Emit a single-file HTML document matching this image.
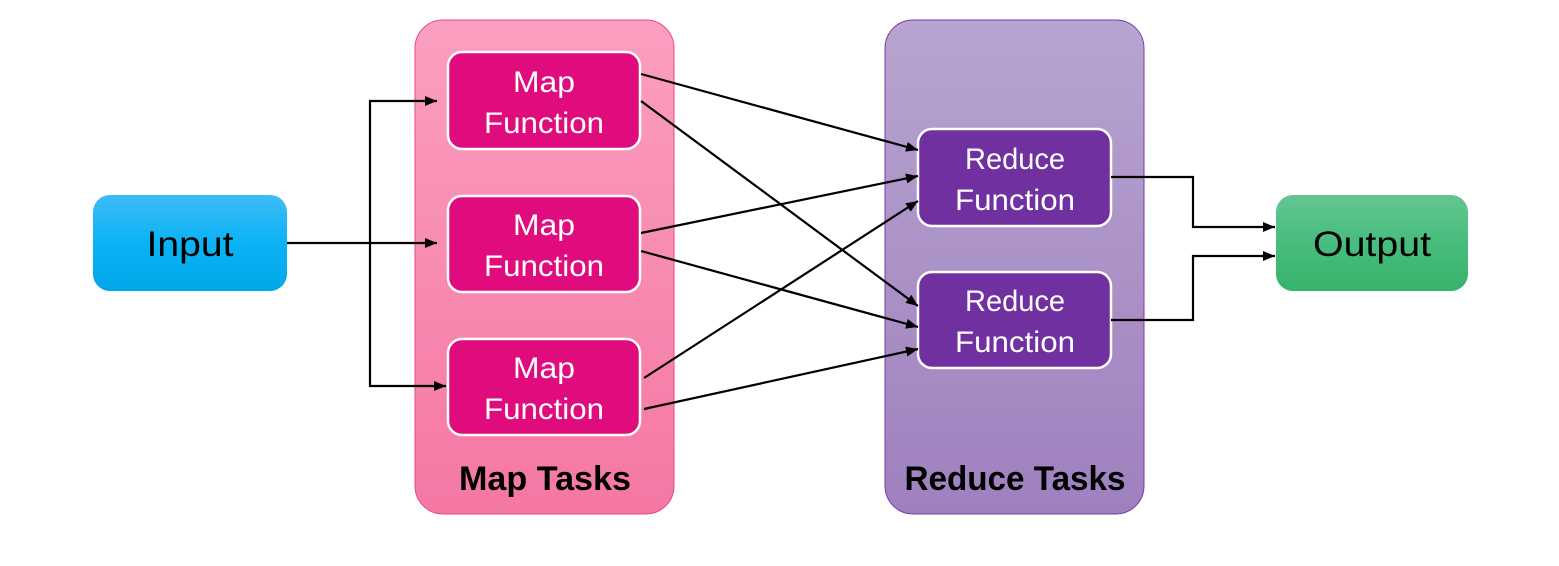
<!DOCTYPE html>
<html><head><meta charset="utf-8"><style>html,body{margin:0;padding:0;background:#fff}svg{display:block}</style></head>
<body>
<svg width="1559" height="566" viewBox="0 0 1559 566" xmlns="http://www.w3.org/2000/svg" font-family="'Liberation Sans', sans-serif">
<defs>
<linearGradient id="gIn" x1="0" y1="0" x2="0" y2="1"><stop offset="0" stop-color="#3dbcf7"/><stop offset="0.5" stop-color="#0bb3f5"/><stop offset="1" stop-color="#00a8e8"/></linearGradient>
<linearGradient id="gOut" x1="0" y1="0" x2="0" y2="1"><stop offset="0" stop-color="#64c592"/><stop offset="0.5" stop-color="#47bd7d"/><stop offset="1" stop-color="#37b36c"/></linearGradient>
<linearGradient id="gMap" x1="0" y1="0" x2="0" y2="1"><stop offset="0" stop-color="#fb9fc0"/><stop offset="1" stop-color="#f577a4"/></linearGradient>
<linearGradient id="gRed" x1="0" y1="0" x2="0" y2="1"><stop offset="0" stop-color="#b8a4d0"/><stop offset="1" stop-color="#9e80be"/></linearGradient>
<marker id="ah" viewBox="0 0 12 10" refX="12" refY="5" markerWidth="12" markerHeight="10" markerUnits="userSpaceOnUse" orient="auto"><path d="M0,0 L12,5 L0,10 z" fill="#000"/></marker>
</defs>
<rect x="415" y="20" width="259" height="494" rx="28" fill="url(#gMap)" stroke="#e8478a" stroke-width="1"/>
<rect x="885" y="20" width="259" height="494" rx="28" fill="url(#gRed)" stroke="#7a3aa6" stroke-width="1"/>
<rect x="93" y="195" width="194" height="96" rx="17" fill="url(#gIn)"/>
<rect x="1276" y="195" width="192" height="96" rx="17" fill="url(#gOut)"/>
<g fill="#e00b7d" stroke="#fff" stroke-width="2.5">
<rect x="448" y="52" width="192" height="97" rx="14"/>
<rect x="448" y="196" width="192" height="96" rx="14"/>
<rect x="448" y="339" width="192" height="96" rx="14"/>
</g>
<g fill="#7030a0" stroke="#fff" stroke-width="2.5">
<rect x="918" y="129" width="193" height="97" rx="14"/>
<rect x="918" y="272" width="193" height="96" rx="14"/>
</g>
<g stroke="#000" stroke-width="2.2" fill="none" marker-end="url(#ah)">
<path d="M287,243 L437,243"/>
<path d="M370,243 L370,101 L437,101"/>
<path d="M370,243 L370,386 L446,386"/>
<path d="M641,74 L918,150"/>
<path d="M641,101 L918,306"/>
<path d="M641,233 L918,176"/>
<path d="M641,251 L918,327"/>
<path d="M644,378 L918,201"/>
<path d="M644,409 L918,349"/>
<path d="M1111,177 L1193,177 L1193,227 L1275,227"/>
<path d="M1111,320 L1193,320 L1193,256 L1275,256"/>
</g>
<g fill="#fff" font-size="30" text-anchor="middle">
<text x="544" y="92" textLength="62" lengthAdjust="spacingAndGlyphs">Map</text>
<text x="544" y="133" textLength="120" lengthAdjust="spacingAndGlyphs">Function</text>
<text x="544" y="235" textLength="62" lengthAdjust="spacingAndGlyphs">Map</text>
<text x="544" y="276" textLength="120" lengthAdjust="spacingAndGlyphs">Function</text>
<text x="544" y="378" textLength="62" lengthAdjust="spacingAndGlyphs">Map</text>
<text x="544" y="419" textLength="120" lengthAdjust="spacingAndGlyphs">Function</text>
<text x="1015" y="169" textLength="100" lengthAdjust="spacingAndGlyphs">Reduce</text>
<text x="1015" y="210" textLength="120" lengthAdjust="spacingAndGlyphs">Function</text>
<text x="1015" y="311" textLength="100" lengthAdjust="spacingAndGlyphs">Reduce</text>
<text x="1015" y="352" textLength="120" lengthAdjust="spacingAndGlyphs">Function</text>
</g>
<g fill="#000" text-anchor="middle">
<text x="190" y="256" font-size="35" textLength="87" lengthAdjust="spacingAndGlyphs">Input</text>
<text x="1372" y="256" font-size="35" textLength="118" lengthAdjust="spacingAndGlyphs">Output</text>
<text x="545" y="490" font-size="34" font-weight="bold" textLength="172" lengthAdjust="spacingAndGlyphs">Map Tasks</text>
<text x="1015" y="490" font-size="34" font-weight="bold" textLength="221" lengthAdjust="spacingAndGlyphs">Reduce Tasks</text>
</g>
</svg>
</body></html>
